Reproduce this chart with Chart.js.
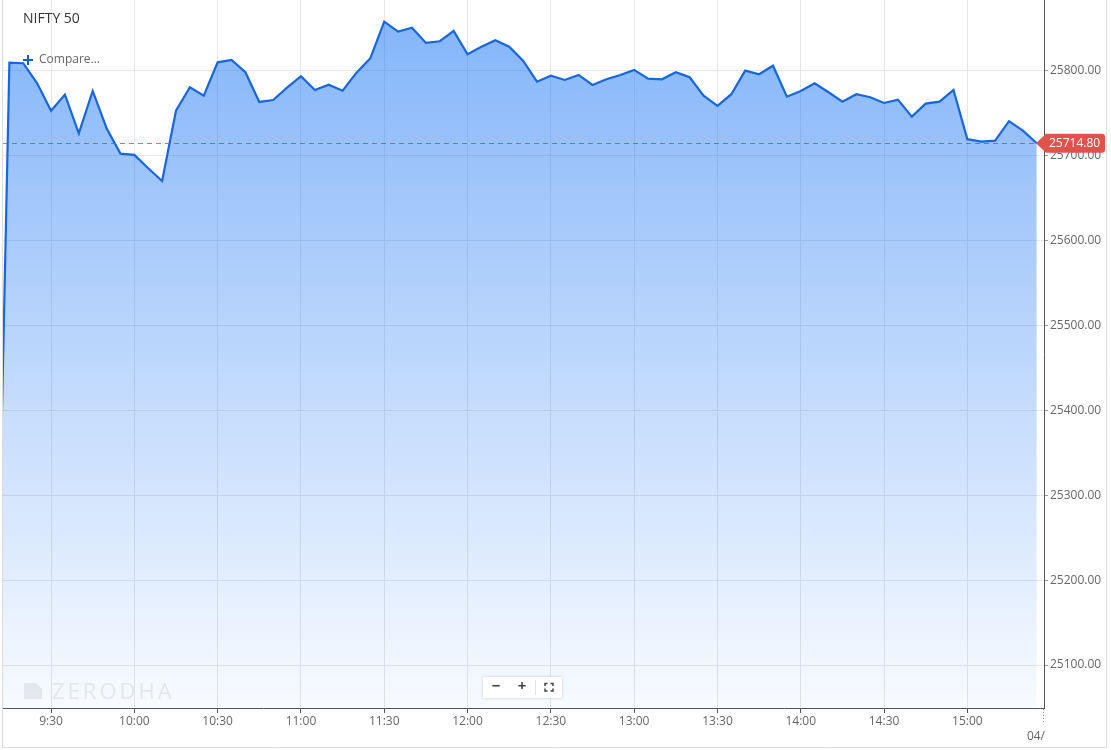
<!DOCTYPE html>
<html>
<head>
<meta charset="utf-8">
<title>NIFTY 50</title>
<script src="https://cdn.jsdelivr.net/npm/chart.js@4.4.0/dist/chart.umd.min.js"></script>
<style>
    body { margin: 0; background: #fff; }
    #box { width: 1111px; height: 750px; }
</style>
</head>
<body>
<div id="box"><canvas id="chart" width="1111" height="750"></canvas></div>
<script>
// 5 minute closes, first one is the last point before the open (out of view)
var times = [
    '9:10', '9:15', '9:20', '9:25', '9:30', '9:35', '9:40', '9:45', '9:50', '9:55',
    '10:00', '10:05', '10:10', '10:15', '10:20', '10:25', '10:30', '10:35', '10:40', '10:45', '10:50', '10:55',
    '11:00', '11:05', '11:10', '11:15', '11:20', '11:25', '11:30', '11:35', '11:40', '11:45', '11:50', '11:55',
    '12:00', '12:05', '12:10', '12:15', '12:20', '12:25', '12:30', '12:35', '12:40', '12:45', '12:50', '12:55',
    '13:00', '13:05', '13:10', '13:15', '13:20', '13:25', '13:30', '13:35', '13:40', '13:45', '13:50', '13:55',
    '14:00', '14:05', '14:10', '14:15', '14:20', '14:25', '14:30', '14:35', '14:40', '14:45', '14:50', '14:55',
    '15:00', '15:05', '15:10', '15:15', '15:20', '15:25'
];

var closes = [
    25040, 25809.8, 25809.1, 25785.5, 25753.2, 25772.1, 25726.6, 25776.4, 25732.5, 25702.6,
    25701.1, 25685.4, 25670.4, 25753.2, 25780.8, 25770.9, 25810.2, 25813.0, 25798.5, 25763.5, 25765.8, 25780.3,
    25793.8, 25777.6, 25783.9, 25776.8, 25798.0, 25815.0, 25858.1, 25846.3, 25851.0, 25833.0, 25835.0, 25847.1,
    25819.7, 25828.6, 25836.2, 25828.6, 25812.1, 25787.4, 25794.5, 25789.4, 25795.3, 25783.5, 25790.2, 25795.3,
    25801.2, 25790.9, 25790.2, 25798.5, 25792.6, 25770.9, 25758.8, 25772.6, 25800.4, 25796.1, 25806.2, 25769.7,
    25776.4, 25785.5, 25774.9, 25763.8, 25772.6, 25769.0, 25762.3, 25766.2, 25746.2, 25761.5, 25763.8, 25777.6,
    25719.6, 25716.7, 25717.9, 25740.8, 25729.7, 25714.8
];

var xTickLabels = ['9:30', '10:00', '10:30', '11:00', '11:30', '12:00', '12:30', '13:00', '13:30', '14:00', '14:30', '15:00'];
var yTicks = [25100, 25200, 25300, 25400, 25500, 25600, 25700, 25800];

var symbol = 'NIFTY 50';
var nextDayLabel = '04/';

// "9:30" -> minutes from midnight
function toMinutes(t)
{
    var parts = t.split(':');
    return parseInt(parts[0]) * 60 + parseInt(parts[1]);
}

function toTime(m)
{
    var h = Math.floor(m / 60);
    var mm = Math.round(m % 60);
    return h + ':' + (mm < 10 ? '0' + mm : mm);
}

var points = [];
for (var i = 0; i < times.length; i++) {
    points.push({ x: toMinutes(times[i]), y: closes[i] });
}
var lastClose = closes[closes.length - 1];

// extra drawing: title, compare, last price, watermark, zoom buttons, frame
var overlay = {
    id: 'overlay',
    afterDraw: function(chart)
    {
        var ctx = chart.ctx;
        var area = chart.chartArea;
        var y = chart.scales.y.getPixelForValue(lastClose);

        ctx.save();

        // watermark
        ctx.fillStyle = 'rgba(110,120,135,0.14)';
        ctx.beginPath();
        ctx.moveTo(24, 683);
        ctx.lineTo(36, 683);
        ctx.lineTo(42, 689);
        ctx.lineTo(42, 699);
        ctx.lineTo(24, 699);
        ctx.closePath();
        ctx.fill();
        ctx.font = '22px "Open Sans"';
        ctx.letterSpacing = '3px';
        ctx.textBaseline = 'alphabetic';
        ctx.textAlign = 'left';
        ctx.fillText('ZERODHA', 52, 699);
        ctx.letterSpacing = '0px';

        // last price dashed line
        ctx.strokeStyle = 'rgba(200,60,70,0.75)';
        ctx.lineWidth = 1;
        ctx.setLineDash([5, 4]);
        ctx.beginPath();
        ctx.moveTo(area.left, Math.round(y) + 0.5);
        ctx.lineTo(1036, Math.round(y) + 0.5);
        ctx.stroke();
        ctx.setLineDash([]);

        // price tag
        ctx.fillStyle = '#e0524c';
        ctx.beginPath();
        ctx.moveTo(1036, y);
        ctx.lineTo(1046, y - 9.5);
        ctx.lineTo(1102, y - 9.5);
        ctx.quadraticCurveTo(1105, y - 9.5, 1105, y - 6.5);
        ctx.lineTo(1105, y + 6.5);
        ctx.quadraticCurveTo(1105, y + 9.5, 1102, y + 9.5);
        ctx.lineTo(1046, y + 9.5);
        ctx.closePath();
        ctx.fill();
        ctx.fillStyle = '#fff';
        ctx.font = '12px "Open Sans"';
        ctx.textAlign = 'left';
        ctx.textBaseline = 'middle';
        ctx.fillText(lastClose.toFixed(2), 1049, y + 0.5);

        // title and compare
        ctx.fillStyle = '#333';
        ctx.font = '14px "Open Sans"';
        ctx.fillText(symbol, 23, 19);
        ctx.strokeStyle = '#1a5fc8';
        ctx.lineWidth = 2;
        ctx.beginPath();
        ctx.moveTo(23, 60);
        ctx.lineTo(33, 60);
        ctx.moveTo(28, 55);
        ctx.lineTo(28, 65);
        ctx.stroke();
        ctx.fillStyle = '#666';
        ctx.font = '12px "Open Sans"';
        ctx.fillText('Compare...', 39, 60);

        // zoom buttons
        ctx.shadowColor = 'rgba(0,0,0,0.18)';
        ctx.shadowBlur = 3;
        ctx.fillStyle = '#fff';
        ctx.fillRect(483, 677, 79, 21);
        ctx.shadowBlur = 0;
        ctx.shadowColor = 'transparent';
        ctx.fillStyle = '#444';
        ctx.font = 'bold 15px "Open Sans"';
        ctx.textAlign = 'center';
        ctx.fillText('\u2212', 496, 687);
        ctx.fillText('+', 522, 687);
        ctx.strokeStyle = '#e2e2e2';
        ctx.lineWidth = 1;
        ctx.beginPath();
        ctx.moveTo(535.5, 680);
        ctx.lineTo(535.5, 695);
        ctx.stroke();
        ctx.strokeStyle = '#444';
        ctx.lineWidth = 1.5;
        ctx.beginPath();
        ctx.moveTo(545, 686); ctx.lineTo(545, 683.5); ctx.lineTo(547.5, 683.5);
        ctx.moveTo(550.5, 683.5); ctx.lineTo(553, 683.5); ctx.lineTo(553, 686);
        ctx.moveTo(553, 688.5); ctx.lineTo(553, 691); ctx.lineTo(550.5, 691);
        ctx.moveTo(547.5, 691); ctx.lineTo(545, 691); ctx.lineTo(545, 688.5);
        ctx.stroke();

        // next day marker on the time axis
        ctx.strokeStyle = '#888';
        ctx.lineWidth = 1;
        ctx.setLineDash([1, 2]);
        ctx.beginPath();
        ctx.moveTo(area.right - 0.5, area.bottom + 1);
        ctx.lineTo(area.right - 0.5, area.bottom + 15);
        ctx.stroke();
        ctx.setLineDash([]);
        ctx.fillStyle = '#666';
        ctx.font = '12px "Open Sans"';
        ctx.textAlign = 'right';
        ctx.fillText(nextDayLabel, area.right + 1, 737);

        // frame
        ctx.strokeStyle = '#dcdcdc';
        ctx.lineWidth = 1;
        ctx.beginPath();
        ctx.moveTo(2.5, 0);
        ctx.lineTo(2.5, 747.5);
        ctx.lineTo(1106.5, 747.5);
        ctx.lineTo(1106.5, 0);
        ctx.stroke();

        ctx.restore();
    }
};

Chart.defaults.font.family = '"Open Sans", sans-serif';
Chart.defaults.font.size = 12;
Chart.defaults.color = '#666';

var chart = new Chart(document.getElementById('chart'), {
    type: 'line',
    data: {
        datasets: [{
            data: points,
            borderColor: '#1766dd',
            borderWidth: 2.2,
            pointRadius: 0,
            tension: 0,
            fill: 'start',
            backgroundColor: function(context) {
                var area = context.chart.chartArea;
                if (!area) {
                    return 'rgba(30,120,245,0.3)';
                }
                var g = context.chart.ctx.createLinearGradient(0, area.top, 0, area.bottom);
                g.addColorStop(0, 'rgba(30,120,245,0.56)');
                g.addColorStop(1, 'rgba(30,120,245,0.03)');
                return g;
            }
        }]
    },
    options: {
        responsive: false,
        animation: false,
        devicePixelRatio: 1,
        layout: { padding: { left: 3, right: 0, top: 0, bottom: 0 } },
        plugins: {
            legend: { display: false },
            tooltip: { enabled: false }
        },
        scales: {
            x: {
                type: 'linear',
                min: 552.7,
                max: 927.6,
                afterFit: function(scale) {
                    scale.height = 42;
                    scale.paddingLeft = 0;
                    scale.paddingRight = 0;
                },
                afterBuildTicks: function(scale) {
                    scale.ticks = xTickLabels.map(function(t) { return { value: toMinutes(t) }; });
                },
                ticks: {
                    padding: 1,
                    maxRotation: 0,
                    autoSkip: false,
                    callback: function(value) { return toTime(value); }
                },
                grid: { color: '#e7e7e7', tickColor: '#555', tickLength: 5 },
                border: { color: '#555', width: 1 }
            },
            y: {
                position: 'right',
                min: 25049.4,
                max: 25883.6,
                afterFit: function(scale) {
                    scale.width = 67;
                    scale.paddingTop = 0;
                    scale.paddingBottom = 0;
                },
                afterBuildTicks: function(scale) {
                    scale.ticks = yTicks.map(function(v) { return { value: v }; });
                },
                ticks: {
                    padding: 2,
                    callback: function(value) { return value.toFixed(2); }
                },
                grid: { color: '#e7e7e7', tickColor: '#999', tickLength: 4 },
                border: { color: '#555', width: 1 }
            }
        }
    },
    plugins: [overlay]
});
</script>
</body>
</html>
